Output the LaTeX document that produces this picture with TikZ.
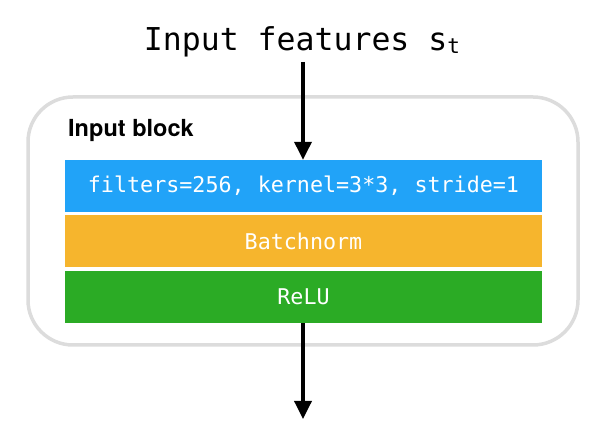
\documentclass[tikz,border=0pt]{standalone}
\usepackage{fontspec}
\setmainfont{TeX Gyre Heros}
\setmonofont{DejaVu Sans Mono}
\usetikzlibrary{arrows.meta}

\definecolor{convblue}{HTML}{21A3F8}
\definecolor{bnorange}{HTML}{F6B52D}
\definecolor{relugreen}{HTML}{2BAB25}
\definecolor{blockgray}{HTML}{DCDCDC}

\tikzset{
    layer/.style={minimum width=477pt, minimum height=52pt, inner sep=0pt,
        text=white, font=\ttfamily\fontsize{21.7}{26}\selectfont},
    flow/.style={line width=3.5pt, -{Triangle[length=18pt,width=17pt]}}
}

\begin{document}
\begin{tikzpicture}[x=1pt, y=-1pt]
        \useasboundingbox (0,0) rectangle (600,443);

        % outer block
        \draw[blockgray, line width=3.5pt, rounded corners=45pt] (28,97) rectangle (578,345);
        \node[anchor=base west, inner sep=0pt, font=\bfseries\fontsize{23.5}{28}\selectfont] (blocklabel) at (68,137) {Input block};

        % layers
        \node[layer, fill=convblue] (conv) at (303.5,186) {filters=256, kernel=3*3, stride=1};
        \node[layer, fill=bnorange] (bn) at (303.5,241) {Batchnorm};
        \node[layer, fill=relugreen] (relu) at (303.5,297) {ReLU};

        % input and output
        \node[anchor=base, font=\ttfamily\fontsize{31.5}{36}\selectfont, inner sep=1pt] (input) at (302,51)
            {Input features s{\fontsize{21}{21}\selectfont\raisebox{-3pt}{t}}};
        \coordinate (output) at (303,419);

        \draw[flow] (303,62) -- (conv.north -| 303,0);
        \draw[flow] (relu.south -| 303,0) -- (output);
    \end{tikzpicture}
\end{document}
